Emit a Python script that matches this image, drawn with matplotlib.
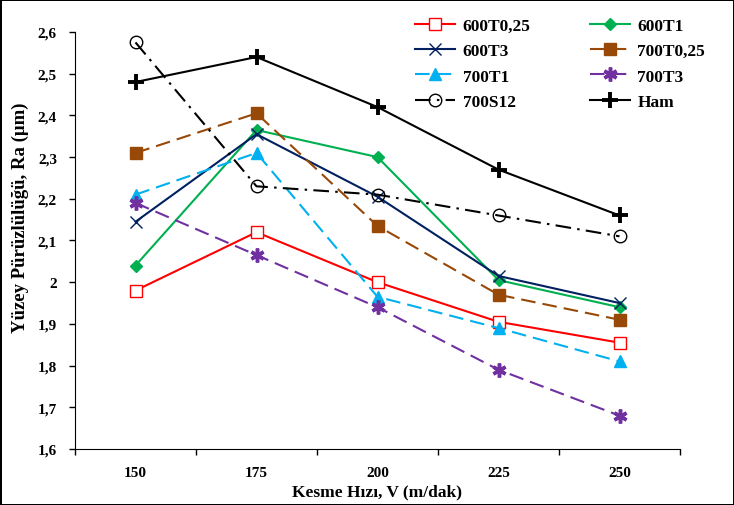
import numpy as np
import matplotlib
matplotlib.use('Agg')
import matplotlib.pyplot as plt

plt.rcParams['font.family'] = ['Liberation Serif', 'DejaVu Serif']
plt.rcParams['font.weight'] = 'bold'

# cutting speeds (categories)
speeds = ['150', '175', '200', '225', '250']

# surface roughness Ra (um) per sample
s600T025 = [1.98, 2.12, 2.00, 1.905, 1.855]
s600T1 = [2.04, 2.365, 2.30, 2.005, 1.94]
s600T3 = [2.145, 2.355, 2.205, 2.015, 1.95]
s700T025 = [2.31, 2.405, 2.135, 1.97, 1.91]
s700T1 = [2.21, 2.31, 1.965, 1.89, 1.81]
s700T3 = [2.19, 2.065, 1.94, 1.79, 1.68]
s700S12 = [2.575, 2.23, 2.21, 2.16, 2.11]
ham = [2.48, 2.54, 2.42, 2.27, 2.16]

fig = plt.figure(figsize=(7.34, 5.06), dpi=100)
fig.patch.set_edgecolor('black')
fig.patch.set_linewidth(2)
ax = fig.add_axes([75/734, 1-450/506, 605/734, 417/506])

x = np.arange(len(speeds))
lw = 1.5

ax.plot(x, s600T025, color='#FF0000', lw=lw, marker='s', ms=8, mfc='white', mec='#FF0000', mew=1, label='600T0,25')
ax.plot(x, s600T1, color='#00B050', lw=lw, marker='D', ms=6.5, mfc='#00B050', mec='#00B050', label='600T1')
ax.plot(x, s600T3, color='#002060', lw=lw, marker='x', ms=9, mew=1, label='600T3')
ax.plot(x, s700T025, color='#984807', lw=lw, dashes=(7, 3.4), marker='s', ms=8.5, mfc='#984807', mec='#984807', label='700T0,25')
ax.plot(x, s700T1, color='#00B0F0', lw=lw, dashes=(7, 3.4), marker='^', ms=9, mfc='#00B0F0', mec='#00B0F0', label='700T1')
ax.plot(x, s700T3, color='#7030A0', lw=lw, dashes=(7, 3.4), marker=(6, 2, 0), ms=10, mew=2.5, mec='#7030A0', label='700T3')
ax.plot(x, s700S12, color='black', lw=lw, dashes=(7.5, 3, 1.2, 3), marker='o', ms=9, mfc='none', mec='black', mew=1, label='700S12')
ax.plot(x, ham, color='black', lw=lw, marker='+', ms=11, mew=2.8, label='Ham')

ax.set_xlim(-0.5, len(speeds) - 0.5)
ax.set_ylim(1.6, 2.6)
ax.set_xticks(x)
ax.set_xticklabels(speeds, fontsize=11, fontweight='bold')
ax.set_xticks(np.arange(-0.5, len(speeds)), minor=True)
ax.tick_params(axis='x', which='major', length=0, pad=12)
ax.tick_params(axis='x', which='minor', length=4, width=1, direction='out')

yt = np.round(np.arange(1.6, 2.61, 0.1), 1)
ax.set_yticks(yt)
ax.set_yticklabels([('%g' % v).replace('.', ',') for v in yt], fontsize=11, fontweight='bold')
ax.tick_params(axis='y', length=4, width=1, direction='out', pad=9)

ax.spines['top'].set_visible(False)
ax.spines['right'].set_visible(False)

ax.set_xlabel('Kesme Hızı, V (m/dak)', fontsize=12.5, fontweight='bold')
ax.xaxis.set_label_coords(0.5, -0.082)
ax.set_ylabel('Yüzey Pürüzlülüğü, Ra (μm)', fontsize=13.5, fontweight='bold')
ax.yaxis.set_label_coords(-0.076, 0.556)

handles, labels = ax.get_legend_handles_labels()
order = [0, 2, 4, 6, 1, 3, 5, 7]
fig.legend([handles[i] for i in order], [labels[i] for i in order],
           ncol=2, loc='upper left', bbox_to_anchor=(415/734, 1-19/506),
           frameon=False, fontsize=12.5, handlelength=2.3, handletextpad=0.45,
           columnspacing=3.4, labelspacing=0.52, borderpad=0, borderaxespad=0)

fig.savefig('out.png', dpi=100)
